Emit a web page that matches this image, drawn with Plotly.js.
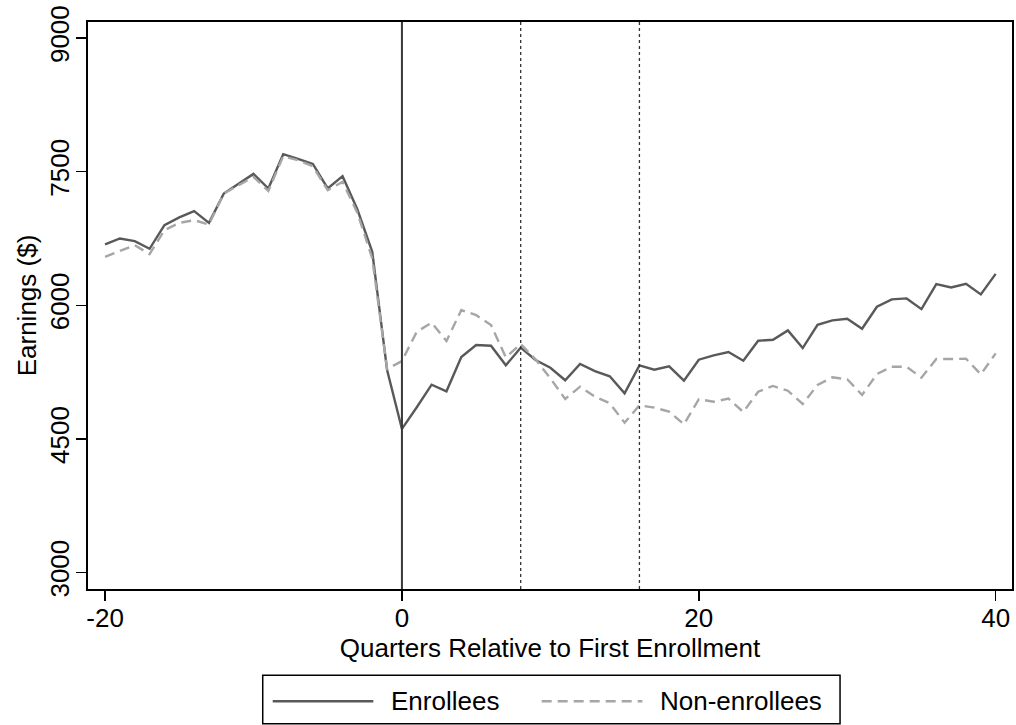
<!DOCTYPE html>
<html>
<head>
<meta charset="utf-8">
<script src="https://cdn.plot.ly/plotly-3.0.1.min.js"></script>
<style>html,body{margin:0;padding:0;background:#fff;}#chart{width:1016px;height:725px;}</style>
</head>
<body>
<div id="chart"></div>
<script>
const quarters = [-20,-19,-18,-17,-16,-15,-14,-13,-12,-11,-10,-9,-8,-7,-6,-5,-4,-3,-2,-1,0,1,2,3,4,5,6,7,8,9,10,11,12,13,14,15,16,17,18,19,20,21,22,23,24,25,26,27,28,29,30,31,32,33,34,35,36,37,38,39,40];
const enrollees = [6683,6750,6720,6634,6900,6986,7057,6925,7255,7367,7475,7311,7696,7643,7587,7311,7449,7075,6600,5273,4612,4855,5109,5034,5419,5554,5546,5326,5524,5386,5299,5158,5341,5262,5203,5012,5326,5277,5315,5153,5389,5438,5475,5378,5602,5613,5718,5520,5781,5830,5849,5736,5983,6066,6077,5957,6238,6200,6241,6122,6353];
const nonEnrollees = [6544,6608,6675,6574,6843,6925,6955,6907,7255,7348,7441,7284,7673,7628,7561,7292,7385,7037,6526,5285,5374,5703,5804,5599,5946,5890,5778,5416,5565,5393,5180,4948,5086,4974,4900,4682,4877,4851,4806,4664,4945,4918,4952,4802,5030,5094,5041,4892,5105,5191,5169,4993,5228,5310,5310,5187,5397,5397,5400,5225,5460];
const seriesNames = ['Enrollees', 'Non-enrollees'];
const yTicks = [3000,4500,6000,7500,9000];
const xTicks = [-20,0,20,40];
const refSolid = [0];
const refDotted = [8,16];

const font = {family: 'Liberation Sans, Arial, sans-serif', color: '#000'};
const FS = 26;
const solidStyle = {color: '#595959', width: 2.4};
const dashStyle = {color: '#a6a6a6', width: 2.4, dash: '10px,6px'};

const traces = [
  {x: quarters, y: enrollees, name: seriesNames[0], type: 'scatter', mode: 'lines', line: solidStyle},
  {x: quarters, y: nonEnrollees, name: seriesNames[1], type: 'scatter', mode: 'lines', line: dashStyle}
];

const shapes = [];
refSolid.forEach(v => shapes.push({type:'line', xref:'x', yref:'paper', x0:v, x1:v, y0:0, y1:1,
  line:{color:'#383838', width:2}}));
refDotted.forEach(v => shapes.push({type:'line', xref:'x', yref:'paper', x0:v, x1:v, y0:0, y1:1,
  line:{color:'#333333', width:1.3, dash:'dot'}}));

// Stata-style legend box below the plot (long line samples)
const legY = -0.1981;
shapes.push({type:'rect', xref:'paper', yref:'paper', x0:0.1891, x1:0.8139, y0:-0.2376, y1:-0.1522,
  line:{color:'#000', width:1.5}, fillcolor:'rgba(0,0,0,0)'});
shapes.push({type:'line', xref:'paper', yref:'paper', x0:0.1999, x1:0.3088, y0:legY, y1:legY, line:solidStyle});
shapes.push({type:'line', xref:'paper', yref:'paper', x0:0.4910, x1:0.6000, y0:legY, y1:legY, line:dashStyle});
const annotations = [
  {xref:'paper', yref:'paper', x:0.3268, y:legY, xanchor:'left', yanchor:'middle', showarrow:false,
   text: seriesNames[0], font: Object.assign({size: FS}, font), borderpad:0},
  {xref:'paper', yref:'paper', x:0.6180, y:legY, xanchor:'left', yanchor:'middle', showarrow:false,
   text: seriesNames[1], font: Object.assign({size: FS}, font), borderpad:0}
];

const layout = {
  width: 1016, height: 725,
  paper_bgcolor: '#fff', plot_bgcolor: '#fff',
  margin: {l: 88, r: 4, t: 22, b: 136},
  font: Object.assign({size: FS}, font),
  showlegend: false,
  xaxis: {range: [-21.15, 41.1], tickvals: xTicks, ticktext: xTicks.map(String),
    ticks: 'outside', ticklen: 10, tickwidth: 1.5, tickcolor: '#000', ticklabelstandoff: -5,
    showline: true, linecolor: '#000', linewidth: 2, mirror: true,
    showgrid: false, zeroline: false,
    tickfont: Object.assign({size: FS}, font),
    title: {text: 'Quarters Relative to First Enrollment', font: Object.assign({size: FS}, font), standoff: 0}},
  yaxis: {range: [2815, 9180], tickvals: yTicks, ticktext: yTicks.map(String),
    ticks: 'outside', ticklen: 10, tickwidth: 1.5, tickcolor: '#000', tickangle: -90, ticklabelstandoff: -3,
    showline: true, linecolor: '#000', linewidth: 2, mirror: true,
    showgrid: false, zeroline: false,
    tickfont: Object.assign({size: FS}, font),
    title: {text: 'Earnings ($)', font: Object.assign({size: FS}, font), standoff: 0}},
  shapes: shapes,
  annotations: annotations
};

Plotly.newPlot('chart', traces, layout, {displayModeBar: false, staticPlot: true});
</script>
</body>
</html>
